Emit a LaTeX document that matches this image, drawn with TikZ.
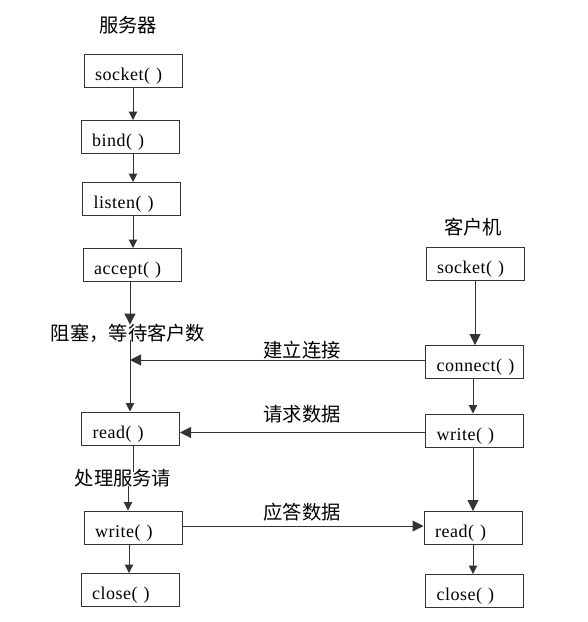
\documentclass[tikz,border=0pt]{standalone}
\usepackage{fontspec}
\setmainfont{Liberation Serif}
\newfontfamily\boxfont{Liberation Serif}[LetterSpace=3]
\newfontfamily\cjk{Noto Sans CJK SC}
\usetikzlibrary{arrows.meta}
\begin{document}
\begin{tikzpicture}[x=1pt,y=-1pt,
  fbox/.style={draw=black!80, line width=1pt, inner xsep=11pt, inner ysep=0pt,
    text width=76pt, align=left, text height=26pt, text depth=7pt,
    font=\boxfont\fontsize{18}{20}\selectfont},
  cjklab/.style={font=\cjk\fontsize{19.3}{21}\selectfont, inner sep=0pt},
  big/.style={draw=black!80, line width=1pt, -{Triangle[length=11pt,width=11pt]}},
  small/.style={draw=black!80, line width=1pt, -{Triangle[length=8.5pt,width=8.5pt]}},
  plain/.style={draw=black!80, line width=1pt}]
\useasboundingbox[fill=white] (0,0) rectangle (588,622);
% titles
\node[cjklab] (srv) at (128,25) {服务器};
\node[cjklab] (cli) at (473,227) {客户机};
% server boxes
\node[fbox] (ssocket) at (133,70.5) {socket(~)};
\node[fbox] (sbind) at (130,137) {bind(~)};
\node[fbox] (slisten) at (131.5,199) {listen(~)};
\node[fbox] (saccept) at (132,265) {accept(~)};
\node[cjklab] (block) at (128,333) {阻塞，等待客户数};
\node[fbox] (sread) at (130.5,428.5) {read(~)};
\node[cjklab] (proc) at (123,478) {处理服务请};
\node[fbox] (swrite) at (133,527.5) {write(~)};
\node[fbox] (sclose) at (130,590) {close(~)};
% client boxes
\node[fbox] (csocket) at (475,263.5) {socket(~)};
\node[fbox] (cconnect) at (474.5,362) {connect(~)};
\node[fbox] (cwrite) at (474.5,430.5) {write(~)};
\node[fbox] (cread) at (473,528) {read(~)};
\node[fbox] (cclose) at (474.5,591) {close(~)};
% connector labels
\node[cjklab] (lab1) at (302,350) {建立连接};
\node[cjklab] (lab2) at (302,414) {请求数据};
\node[cjklab] (lab3) at (302,512) {应答数据};
% server chain
\coordinate (sx) at (133,0);
\draw[small] (ssocket.south -| sx) -- (sbind.north -| sx);
\draw[small] (sbind.south -| sx) -- (slisten.north -| sx);
\draw[small] (slisten.south -| sx) -- (saccept.north -| sx);
\coordinate (bx) at (130,0);
\draw[big] (saccept.south -| bx) -- ([yshift=-1pt]block.north -| bx);
\draw[small] ([yshift=2pt]block.south -| bx) -- (sread.north -| bx);
\draw[plain] (sread.south -| sx) -- ([yshift=-3pt]proc.north -| sx);
\coordinate (px) at (128,0);
\draw[small] ([yshift=1pt]proc.south -| px) -- (swrite.north -| px);
\coordinate (wx) at (129,0);
\draw[small] (swrite.south -| wx) -- (sclose.north -| wx);
% client chain
\coordinate (cx) at (475,0);
\coordinate (cx2) at (473,0);
\draw[big] (csocket.south -| cx) -- (cconnect.north -| cx);
\draw[small] (cconnect.south -| cx2) -- (cwrite.north -| cx2);
\draw[big] (cwrite.south -| cx2) -- (cread.north -| cx2);
\draw[small] (cread.south -| cx2) -- (cclose.north -| cx2);
% cross connectors
\draw[big] ([yshift=2pt]cconnect.west) -- ([yshift=2pt]cconnect.west -| bx);
\draw[big] ([yshift=-2pt]cwrite.west) -- ([yshift=-2pt]cwrite.west -| sread.east);
\draw[big] ([yshift=1.5pt]swrite.east) -- ([yshift=1.5pt]swrite.east -| cread.west);
\end{tikzpicture}
\end{document}
